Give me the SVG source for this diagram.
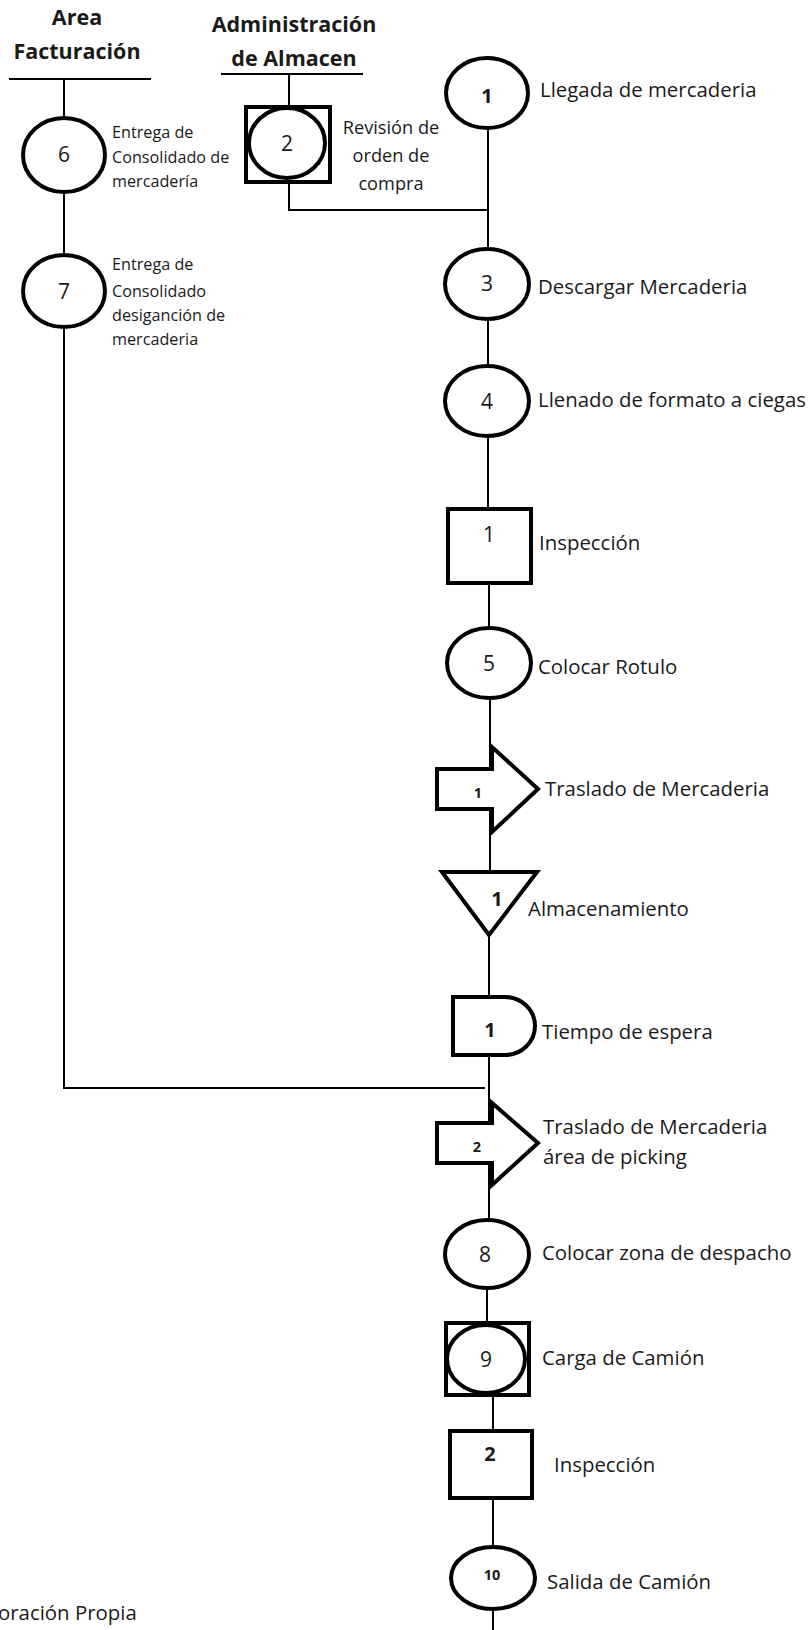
<svg xmlns="http://www.w3.org/2000/svg" width="811" height="1630" viewBox="0 0 811 1630">
<style>
.sh{fill:#fff;stroke:#000;stroke-width:4}
.cn{fill:none;stroke:#000;stroke-width:2}
text{font-family:"Open Sans","Noto Sans",sans-serif;fill:#1a1a1a}
.lb{font-size:20.4px}
.sm{font-size:16.2px}
.md{font-size:18.2px;text-anchor:middle}
.hd{font-size:21.5px;font-weight:bold;text-anchor:middle}
.num{font-size:21px;text-anchor:middle}
.nb{font-size:20px;font-weight:bold;text-anchor:middle}
.ns{font-size:14.5px;font-weight:bold;text-anchor:middle}
</style>
<rect width="811" height="1630" fill="#fff"/>
<g id="headers">
<text class="hd" x="77" y="25">Area</text>
<text class="hd" x="77" y="59">Facturación</text>
<text class="hd" x="294" y="32">Administración</text>
<text class="hd" x="294" y="66">de Almacen</text>
</g>
<g id="connectors">
<path class="cn" d="M9,79 H151 M64,79 V118 M64,192 V255 M64,327 V1088 H485"/>
<path class="cn" d="M221,74 H363 M289,74 V107 M289,182 V210 H488"/>
<path class="cn" d="M488,128 V249 M488,319 V366 M488,436 V509 M489,583 V628 M490,698 V872 M489,935 V997 M489,1055 V1220 M487,1288 V1323 M493,1395 V1431 M493,1498 V1547 M493,1609 V1630"/>
</g>
<g id="n6">
<ellipse class="sh" cx="64" cy="155" rx="41" ry="37"/>
<text class="num" x="64" y="162">6</text>
<text class="sm" x="112" y="138">Entrega de</text>
<text class="sm" x="112" y="163">Consolidado de</text>
<text class="sm" x="112" y="187">mercadería</text>
</g>
<g id="n7">
<ellipse class="sh" cx="64" cy="291" rx="41" ry="36"/>
<text class="num" x="64" y="299">7</text>
<text class="sm" x="112" y="270">Entrega de</text>
<text class="sm" x="112" y="297">Consolidado</text>
<text class="sm" x="112" y="321">desiganción de</text>
<text class="sm" x="112" y="345">mercaderia</text>
</g>
<g id="n2">
<rect class="sh" x="246" y="107" width="84" height="75"/>
<ellipse class="sh" cx="287" cy="143" rx="38" ry="35"/>
<text class="num" x="287" y="151">2</text>
<text class="md" x="391" y="134">Revisión de</text>
<text class="md" x="391" y="162">orden de</text>
<text class="md" x="391" y="190">compra</text>
</g>
<g id="n1">
<ellipse class="sh" cx="487" cy="93" rx="41" ry="35"/>
<text class="nb" x="487" y="103">1</text>
<text class="lb" x="540" y="97">Llegada de mercaderia</text>
</g>
<g id="n3">
<ellipse class="sh" cx="487" cy="284" rx="42" ry="35"/>
<text class="num" x="487" y="291">3</text>
<text class="lb" x="538" y="294">Descargar Mercaderia</text>
</g>
<g id="n4">
<ellipse class="sh" cx="487" cy="401" rx="42" ry="35"/>
<text class="num" x="487" y="409">4</text>
<text class="lb" x="538" y="407">Llenado de formato a ciegas</text>
</g>
<g id="i1">
<rect class="sh" x="448" y="509" width="83" height="74"/>
<text class="num" x="489" y="542">1</text>
<text class="lb" x="539" y="550">Inspección</text>
</g>
<g id="n5">
<ellipse class="sh" cx="489" cy="663" rx="42" ry="35"/>
<text class="num" x="489" y="671">5</text>
<text class="lb" x="538" y="674">Colocar Rotulo</text>
</g>
<g id="t1">
<path class="sh" d="M437,769 H492 V747 L538,789 L492,832 V809 H437 Z"/>
<text class="ns" x="478" y="798">1</text>
<text class="lb" x="545" y="796">Traslado de Mercaderia</text>
</g>
<g id="a1">
<path class="sh" d="M442,872 H537 L489,935 Z"/>
<text class="nb" x="497" y="906">1</text>
<text class="lb" x="528" y="916">Almacenamiento</text>
</g>
<g id="d1">
<path class="sh" d="M453,997 H505 A30,29 0 0 1 505,1055 H453 Z"/>
<text class="nb" x="490" y="1037">1</text>
<text class="lb" x="542" y="1039">Tiempo de espera</text>
</g>
<g id="t2">
<path class="sh" d="M437,1123 H492 V1103 L538,1143 L492,1185 V1163 H437 Z"/>
<text class="ns" x="477" y="1152">2</text>
<text class="lb" x="543" y="1134">Traslado de Mercaderia</text>
<text class="lb" x="543" y="1164">área de picking</text>
</g>
<g id="n8">
<ellipse class="sh" cx="487" cy="1254" rx="42" ry="34"/>
<text class="num" x="485" y="1262">8</text>
<text class="lb" x="542" y="1260">Colocar zona de despacho</text>
</g>
<g id="n9">
<rect class="sh" x="446" y="1323" width="83" height="72"/>
<ellipse class="sh" cx="486" cy="1359" rx="39" ry="34"/>
<text class="num" x="486" y="1367">9</text>
<text class="lb" x="542" y="1365">Carga de Camión</text>
</g>
<g id="i2">
<rect class="sh" x="450" y="1431" width="82" height="67"/>
<text class="nb" x="490" y="1461">2</text>
<text class="lb" x="554" y="1472">Inspección</text>
</g>
<g id="n10">
<ellipse class="sh" cx="493" cy="1578" rx="42" ry="31"/>
<text class="ns" x="492" y="1580">10</text>
<text class="lb" x="547" y="1589">Salida de Camión</text>
</g>
<g id="footer">
<text class="lb" x="-2" y="1620">oración Propia</text>
</g>
</svg>
